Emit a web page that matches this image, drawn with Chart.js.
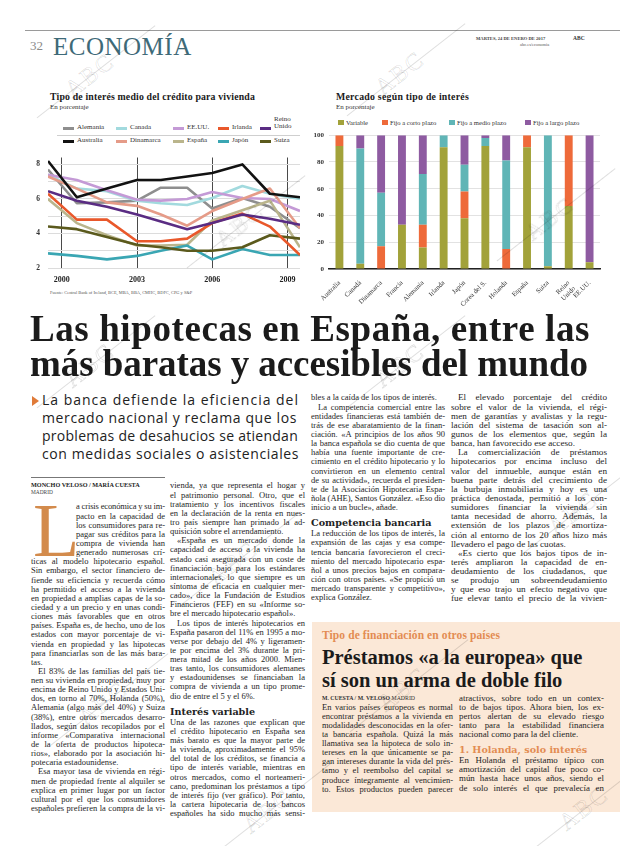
<!DOCTYPE html>
<html>
<head>
<meta charset="utf-8">
<script src="https://cdn.jsdelivr.net/npm/chart.js@4.4.1/dist/chart.umd.min.js"></script>
<style>
  body { margin:0; width:620px; height:846px; position:relative; overflow:hidden; background:#fff; color:#222; font-family:"Liberation Serif", serif; }
  .a { position:absolute; white-space:nowrap; }
  .txt { position:absolute; font-size:8.5px; line-height:9.15px; color:#1e1e1e; }
  .txt .l { white-space:nowrap; height:9.15px; }
  .txt .ind { padding-left:7px; }
  .txt .dc { padding-left:45px; }
  .txt .h { font-family:"DejaVu Serif", serif; font-weight:bold; font-size:9.6px; height:12px; line-height:12px; margin-top:5px; color:#222; white-space:nowrap; }
  .txt .h.or { color:#e38c52; }
  .wm { position:absolute; font-family:"Liberation Serif", serif; font-size:24px; color:transparent; -webkit-text-stroke:0.6px rgba(0,0,0,0.15); transform:rotate(-38deg); letter-spacing:2px; }
  .wm::after { content:""; position:absolute; left:-40px; top:14px; width:150px; border-top:0.7px solid rgba(0,0,0,0.13); }
  .leg { position:absolute; font-size:7px; color:#333; white-space:nowrap; }
  .sw { position:absolute; }
</style>
</head>
<body>

<!-- cabecera -->
<div class="a" style="left:25px;top:30px;width:595px;border-top:1px solid #9a9a9a;"></div>
<div class="a" style="left:30px;top:38px;font-size:13px;color:#8a8a8a;">32</div>
<div class="a" style="left:53px;top:33px;font-size:25px;color:#3e6a78;letter-spacing:0.5px;">ECONOMÍA</div>
<div class="a" style="left:476px;top:36px;font-size:4.6px;font-weight:bold;color:#444;">MARTES, 24 DE ENERO DE 2017</div>
<div class="a" style="left:573px;top:35px;font-size:5.5px;font-weight:bold;color:#333;">ABC</div>
<div class="a" style="left:520px;top:42px;font-size:4.4px;color:#555;">abc.es/economia</div>

<!-- grafico izquierda -->
<div class="a fit" data-w="205" style="left:50px;top:91px;font-size:9.8px;font-weight:bold;color:#1a1a1a;">Tipo de interés medio del crédito para vivienda</div>
<div class="a" style="left:50px;top:103px;font-size:7px;color:#333;">En porcentaje</div>
<div id="legendLeft"></div>
<div class="a" style="left:57px;top:135px;width:243px;border-top:0.6px solid #cfcfcf;"></div>
<div class="a" style="left:30px;top:145px;width:275px;height:145px;"><canvas id="lineChart"></canvas></div>
<div class="a" style="left:50px;top:290px;font-size:4.4px;color:#555;">Fuente: Central Bank of Ireland, BCE, MBA, BBA, CMHC, BDFC, CPG y S&amp;P</div>

<!-- grafico derecha -->
<div class="a fit" data-w="133" style="left:336px;top:91px;font-size:9.8px;font-weight:bold;color:#1a1a1a;">Mercado según tipo de interés</div>
<div class="a" style="left:336px;top:103px;font-size:7px;color:#333;">En porcentaje</div>
<div id="legendRight"></div>
<div class="a" style="left:312px;top:126px;width:298px;height:186px;"><canvas id="barChart"></canvas></div>

<!-- titular -->
<div class="a fit" data-w="560" style="left:30px;top:311px;font-size:37px;line-height:36px;font-weight:bold;color:#1b1b1b;">Las hipotecas en España, entre las</div>
<div class="a fit" data-w="558" style="left:30px;top:346px;font-size:37px;line-height:36px;font-weight:bold;color:#1b1b1b;">más baratas y accesibles del mundo</div>

<div class="a" style="left:32px;top:396px;width:0;height:0;border-top:5px solid transparent;border-bottom:5px solid transparent;border-left:7px solid #e07b39;"></div>
<div class="a fit" data-w="257" style="left:42px;top:391px;font-family:'Open Sans',sans-serif;font-size:14px;line-height:18px;color:#222;">La banca defiende la eficiencia del</div>
<div class="a fit" data-w="255" style="left:42px;top:409px;font-family:'Open Sans',sans-serif;font-size:14px;line-height:18px;color:#222;">mercado nacional y reclama que los</div>
<div class="a fit" data-w="256" style="left:42px;top:427px;font-family:'Open Sans',sans-serif;font-size:14px;line-height:18px;color:#222;">problemas de desahucios se atiendan</div>
<div class="a fit" data-w="257" style="left:42px;top:445px;font-family:'Open Sans',sans-serif;font-size:14px;line-height:18px;color:#222;">con medidas sociales o asistenciales</div>

<div class="a" style="left:31px;top:477px;width:134px;border-top:0.8px solid #777;"></div>
<div class="a" style="left:31px;top:481px;font-size:6.2px;font-weight:bold;color:#222;">MONCHO VELOSO / MARÍA CUESTA</div>
<div class="a" style="left:31px;top:489px;font-size:5.4px;color:#444;">MADRID</div>
<div class="a" style="left:33px;top:505px;font-size:76px;line-height:50px;height:50px;color:#d38b4c;">L</div>

<div class="txt" style="left:31px;top:502.4px;width:134px;">
&lt;a crisis económica y su im-
&lt;pacto en la capacidad de
&lt;los consumidores para re-
&lt;pagar sus créditos para la
&lt;compra de vivienda han
&lt;generado numerosas crí-
ticas al modelo hipotecario español.
Sin embargo, el sector financiero de-
fiende su eficiencia y recuerda cómo
ha permitido el acceso a la vivienda
en propiedad a amplias capas de la so-
ciedad y a un precio y en unas condi-
ciones más favorables que en otros
países. España es, de hecho, uno de los
estados con mayor porcentaje de vi-
vienda en propiedad y las hipotecas
para financiarlas son de las más bara-
tas.~
&gt;El 83% de las familias del país tie-
nen su vivienda en propiedad, muy por
encima de Reino Unido y Estados Uni-
dos, en torno al 70%, Holanda (50%),
Alemania (algo más del 40%) y Suiza
(38%), entre otros mercados desarro-
llados, según datos recopilados por el
informe «Comparativa internacional
de la oferta de productos hipoteca-
rios», elaborado por la asociación hi-
potecaria estadounidense.~
&gt;Esa mayor tasa de vivienda en régi-
men de propiedad frente al alquiler se
explica en primer lugar por un factor
cultural por el que los consumidores
españoles prefieren la compra de la vi-
</div>

<div class="txt" style="left:170px;top:481.4px;width:135px;">
vienda, ya que representa el hogar y
el patrimonio personal. Otro, que el
tratamiento y los incentivos fiscales
en la declaración de la renta en nues-
tro país siempre han primado la ad-
quisición sobre el arrendamiento.~
&gt;«España es un mercado donde la
capacidad de acceso a la vivienda ha
estado casi asegurada con un coste de
financiación bajo para los estándares
internacionales, lo que siempre es un
síntoma de eficacia en cualquier mer-
cado», dice la Fundación de Estudios
Financieros (FEF) en su «Informe so-
bre el mercado hipotecario español».~
&gt;Los tipos de interés hipotecarios en
España pasaron del 11% en 1995 a mo-
verse por debajo del 4% y ligeramen-
te por encima del 3% durante la pri-
mera mitad de los años 2000. Mien-
tras tanto, los consumidores alemanes
y estadounidenses se financiaban la
compra de vivienda a un tipo prome-
dio de entre el 5 y el 6%.~
#Interés variable
Una de las razones que explican que
el crédito hipotecario en España sea
más barato es que la mayor parte de
la vivienda, aproximadamente el 95%
del total de los créditos, se financia a
tipo de interés variable, mientras en
otros mercados, como el norteameri-
cano, predominan los préstamos a tipo
de interés fijo (ver gráfico). Por tanto,
la cartera hipotecaria de los bancos
españoles ha sido mucho más sensi-
</div>

<div class="txt" style="left:311px;top:393.4px;width:134px;">
bles a la caída de los tipos de interés.~
&gt;La competencia comercial entre las
entidades financieras está también de-
trás de ese abaratamiento de la finan-
ciación. «A principios de los años 90
la banca española se dio cuenta de que
había una fuente importante de cre-
cimiento en el crédito hipotecario y lo
convirtieron en un elemento central
de su actividad», recuerda el presiden-
te de la Asociación Hipotecaria Espa-
ñola (AHE), Santos González. «Eso dio
inicio a un bucle», añade.~
#Competencia bancaria
La reducción de los tipos de interés, la
expansión de las cajas y esa compe-
tencia bancaria favorecieron el creci-
miento del mercado hipotecario espa-
ñol a unos precios bajos en compara-
ción con otros países. «Se propició un
mercado transparente y competitivo»,
explica González.~
</div>

<div class="txt" style="left:451px;top:393.4px;width:156px;font-size:9.2px;">
&gt;El elevado porcentaje del crédito
sobre el valor de la vivienda, el régi-
men de garantías y avalistas y la regu-
lación del sistema de tasación son al-
gunos de los elementos que, según la
banca, han favorecido ese acceso.~
&gt;La comercialización de préstamos
hipotecarios por encima incluso del
valor del inmueble, aunque están en
buena parte detrás del crecimiento de
la burbuja inmobiliaria y hoy es una
práctica denostada, permitió a los con-
sumidores financiar la vivienda sin
tanta necesidad de ahorro. Además, la
extensión de los plazos de amortiza-
ción al entorno de los 20 años hizo más
llevadero el pago de las cuotas.~
&gt;«Es cierto que los bajos tipos de in-
terés ampliaron la capacidad de en-
deudamiento de los ciudadanos, que
se produjo un sobreendeudamiento
y que eso trajo un efecto negativo que
fue elevar tanto el precio de la vivien-
</div>

<!-- despiece -->
<div class="a" style="left:312px;top:622px;width:308px;height:190px;background:#fbe8d7;"></div>
<div class="a fit" data-w="178" style="left:322px;top:629px;font-size:11.5px;font-weight:bold;color:#e38c52;">Tipo de financiación en otros países</div>
<div class="a" style="left:322px;top:646px;font-size:20.5px;line-height:23px;font-weight:bold;color:#1b1b1b;">Préstamos «a la europea» que<br>sí son un arma de doble filo</div>
<div class="a" style="left:322px;top:695px;font-size:5.8px;color:#333;"><b>M. CUESTA / M. VELOSO</b> MADRID</div>

<div class="txt" style="left:322px;top:702.5px;width:131px;">
En varios países europeos es normal
encontrar préstamos a la vivienda en
modalidades desconocidas en la ofer-
ta bancaria española. Quizá la más
llamativa sea la hipoteca de solo in-
tereses en la que únicamente se pa-
gan intereses durante la vida del prés-
tamo y el reembolso del capital se
produce íntegramente al vencimien-
to. Estos productos pueden parecer
</div>

<div class="txt" style="left:459px;top:693.5px;width:145px;font-size:8.9px;">
atractivos, sobre todo en un contex-
to de bajos tipos. Ahora bien, los ex-
pertos alertan de su elevado riesgo
tanto para la estabilidad financiera
nacional como para la del cliente.~
#!1. Holanda, solo interés
En Holanda el préstamo típico con
amortización del capital fue poco co-
mún hasta hace unos años, siendo el
de solo interés el que prevalecía en
</div>

<!-- marcas de agua -->
<div class="wm" style="left:62px;top:62px;">ABC</div>
<div class="wm" style="left:372px;top:60px;">ABC</div>
<div class="wm" style="left:212px;top:212px;">ABC</div>
<div class="wm" style="left:522px;top:205px;">ABC</div>
<div class="wm" style="left:62px;top:352px;">ABC</div>
<div class="wm" style="left:372px;top:352px;">ABC</div>
<div class="wm" style="left:205px;top:550px;">ABC</div>
<div class="wm" style="left:545px;top:500px;">ABC</div>
<div class="wm" style="left:75px;top:690px;">ABC</div>
<div class="wm" style="left:375px;top:676px;">ABC</div>
<div class="wm" style="left:240px;top:798px;">ABC</div>
<div class="wm" style="left:556px;top:795px;">ABC</div>

<script>
// --- datos grafico de lineas (%)
const years = [1999.45, 2000.6, 2001.8, 2003, 2003.95, 2005, 2006, 2007.2, 2008.3, 2009.5]
const xTicks = [2000, 2003, 2006, 2009]
const yTicksLeft = [2, 3, 4, 5, 6, 7, 8]
const australia = [8.2, 6.1, 6.6, 7.1, 7.1, 7.3, 7.5, 8.0, 6.3, 6.1]
const alemania = [7.7, 5.75, 5.8, 5.9, 6.65, 6.65, 5.45, 6.05, 5.55, 4.3]
const canada = [7.4, 6.6, 6.45, 5.9, 5.75, 5.65, 6.05, 6.75, 6.3, 6.0]
const eeuu = [7.4, 7.1, 6.5, 5.95, 5.9, 6.0, 6.4, 6.05, 6.0, 5.3]
const irlanda = [6.3, 4.8, 4.8, 3.55, 3.55, 3.7, 4.6, 5.15, 4.4, 2.75]
const reinoUnido = [6.45, 5.9, 5.55, 5.1, 4.7, 4.25, 4.6, 5.1, 4.85, 4.5]
const dinamarca = [7.3, 6.6, 5.8, 5.6, 5.1, 4.45, 5.3, 6.0, 6.6, 4.3]
const espana = [6.0, 4.6, 3.9, 3.3, 3.3, 3.35, 4.75, 5.35, 5.9, 3.2]
const japon = [2.85, 2.7, 2.5, 2.7, 3.0, 3.3, 2.5, 3.1, 2.75, 2.75]
const suiza = [4.4, 4.25, 3.8, 3.35, 3.2, 3.0, 3.0, 3.2, 3.9, 3.7]

// --- datos grafico de barras (%)
const paises = ["Australia", "Canadá", "Dinamarca", "Francia", "Alemania", "Irlanda", "Japón", "Corea del S.", "Holanda", "España", "Suiza", ["Reino", "Unido"], "EE.UU."]
const variable = [92, 4, 0, 33, 16, 91, 38, 92, 0, 91, 2, 47, 5]
const fijoCorto = [8, 0, 17, 0, 17, 0, 20, 0, 15, 9, 0, 53, 0]
const fijoMedio = [0, 86, 40, 0, 38, 9, 20, 6, 66, 0, 98, 0, 0]
const fijoLargo = [0, 10, 43, 67, 29, 0, 22, 2, 19, 0, 0, 0, 95]
const yTicksRight = [0, 20, 40, 60, 80, 100]

// orden de pintado: el primero queda arriba
const lineas = [
    { nombre: "Australia", datos: australia, color: "#121212" },
    { nombre: "Reino Unido", datos: reinoUnido, color: "#5a2c83" },
    { nombre: "Irlanda", datos: irlanda, color: "#e9582b" },
    { nombre: "Suiza", datos: suiza, color: "#5b5a1d" },
    { nombre: "Japón", datos: japon, color: "#3aa6b3" },
    { nombre: "España", datos: espana, color: "#bab58c" },
    { nombre: "Dinamarca", datos: dinamarca, color: "#e59b88" },
    { nombre: "EE.UU.", datos: eeuu, color: "#c49ad6" },
    { nombre: "Canada", datos: canada, color: "#a2dade" },
    { nombre: "Alemania", datos: alemania, color: "#8e8e8e" }
]
const leyendaFila1 = ["Alemania", "Canada", "EE.UU.", "Irlanda", "Reino Unido"]
const leyendaFila2 = ["Australia", "Dinamarca", "España", "Japón", "Suiza"]
const tramos = [
    { nombre: "Variable", datos: variable, color: "#a2a23a" },
    { nombre: "Fijo a corto plazo", datos: fijoCorto, color: "#ee6a3a" },
    { nombre: "Fijo a medio plazo", datos: fijoMedio, color: "#60b5b6" },
    { nombre: "Fijo a largo plazo", datos: fijoLargo, color: "#8e5ba1" }
]

// leyenda izquierda
const legL = document.querySelector("#legendLeft")
const colX = [63, 116, 173, 218, 260]
;[leyendaFila1, leyendaFila2].forEach((fila, r) => {
    fila.forEach((nombre, c) => {
        const s = lineas.find(l => l.nombre == nombre)
        const y = r == 0 ? 128 : 141
        legL.innerHTML += `<div class="sw" style="left:${colX[c]}px;top:${y - 1.5}px;width:11px;height:3px;background:${s.color}"></div>`
        if (nombre == "Reino Unido") {
            legL.innerHTML += `<div class="leg" style="left:${colX[c] + 14}px;top:${y - 12}px;line-height:7px">Reino<br>Unido</div>`
        } else {
            legL.innerHTML += `<div class="leg" style="left:${colX[c] + 14}px;top:${y - 5}px;line-height:9px">${nombre}</div>`
        }
    })
})

// leyenda derecha
const legR = document.querySelector("#legendRight")
const colXR = [338, 382, 449, 525]
tramos.forEach((t, i) => {
    legR.innerHTML += `<div class="sw" style="left:${colXR[i]}px;top:120px;width:6px;height:5px;background:${t.color}"></div>`
    legR.innerHTML += `<div class="leg" style="left:${colXR[i] + 8}px;top:118px;line-height:9px;font-size:6.6px">${t.nombre}</div>`
})

Chart.defaults.font.family = "'Liberation Serif', serif"
Chart.defaults.color = "#222"

new Chart(document.getElementById("lineChart"), {
    type: "line",
    data: {
        datasets: lineas.map(l => ({
            label: l.nombre,
            data: years.map((x, i) => ({ x: x, y: l.datos[i] })),
            borderColor: l.color,
            borderWidth: 2.6,
            borderJoinStyle: "round",
            pointRadius: 0,
            tension: 0
        }))
    },
    options: {
        animation: false,
        responsive: true,
        maintainAspectRatio: false,
        layout: { padding: { left: 0, right: 5, top: 0, bottom: 0 } },
        plugins: { legend: { display: false }, tooltip: { enabled: false } },
        scales: {
            x: {
                type: "linear", min: 1999.45, max: 2009.5,
                afterBuildTicks: a => { a.ticks = xTicks.map(v => ({ value: v })) },
                afterFit: s => { s.height = 22 },
                grid: { color: "#4a4a4a", lineWidth: 1, drawTicks: false },
                border: { display: false },
                ticks: { font: { size: 8, weight: "bold" }, color: "#222", padding: 7, callback: v => String(v) }
            },
            y: {
                min: 2, max: 8.4,
                afterBuildTicks: a => { a.ticks = yTicksLeft.map(v => ({ value: v })) },
                afterFit: s => { s.width = 18 },
                grid: { color: "#dcdcdc", lineWidth: 1, drawTicks: false },
                border: { display: false },
                ticks: { font: { size: 7.5, weight: "bold" }, color: "#333", padding: 8, callback: v => v % 2 == 0 ? v : "" }
            }
        }
    }
})

new Chart(document.getElementById("barChart"), {
    type: "bar",
    data: {
        labels: paises,
        datasets: tramos.map(t => ({
            label: t.nombre,
            data: t.datos,
            backgroundColor: t.color,
            barPercentage: 0.9,
            categoryPercentage: 0.42
        }))
    },
    options: {
        animation: false,
        responsive: true,
        maintainAspectRatio: false,
        layout: { padding: { left: 0, right: 10, top: 9, bottom: 0 } },
        plugins: { legend: { display: false }, tooltip: { enabled: false } },
        scales: {
            x: {
                stacked: true,
                afterFit: s => { s.height = 43 },
                grid: { display: false },
                border: { color: "#222", width: 1.5 },
                ticks: { font: { size: 6.8 }, color: "#333", minRotation: 45, maxRotation: 45, autoSkip: false, padding: 2 }
            },
            y: {
                stacked: true, min: 0, max: 100,
                afterBuildTicks: a => { a.ticks = yTicksRight.map(v => ({ value: v })) },
                afterFit: s => { s.width = 17 },
                grid: { color: "#e2e2e2", drawTicks: false },
                border: { display: false },
                ticks: { font: { size: 7, weight: "bold" }, color: "#333", padding: 5 }
            }
        }
    }
})

// texto de columnas: una linea por renglon, justificada como en el periodico
document.querySelectorAll(".txt").forEach(col => {
    const renglones = col.textContent.split("\n").map(s => s.trim()).filter(s => s.length)
    col.textContent = ""
    renglones.forEach(r => {
        const d = document.createElement("div")
        if (r.startsWith("#")) {
            d.className = "h"
            r = r.slice(1)
            if (r.startsWith("!")) { d.classList.add("or"); r = r.slice(1) }
            d.textContent = r
            col.appendChild(d)
            return
        }
        d.className = "l"
        if (r.startsWith(">")) { d.classList.add("ind"); r = r.slice(1) }
        if (r.startsWith("<")) { d.classList.add("dc"); r = r.slice(1) }
        let ultima = false
        if (r.endsWith("~")) { ultima = true; r = r.slice(0, -1) }
        const s = document.createElement("span")
        s.textContent = r
        d.appendChild(s)
        col.appendChild(d)
        const libre = d.clientWidth - parseFloat(getComputedStyle(d).paddingLeft)
        const ancho = s.getBoundingClientRect().width
        if (ancho > libre) {
            s.style.letterSpacing = ((libre - ancho) / r.length) + "px"
        } else if (!ultima) {
            const espacios = (r.match(/ /g) || []).length
            if (espacios) s.style.wordSpacing = ((libre - ancho) / espacios) + "px"
        }
    })
})

// ajustar titulares al ancho medido
document.querySelectorAll(".fit").forEach(el => {
    const w = parseFloat(el.dataset.w)
    const actual = el.getBoundingClientRect().width
    el.style.letterSpacing = ((w - actual) / el.textContent.length) + "px"
})
</script>
</body>
</html>
